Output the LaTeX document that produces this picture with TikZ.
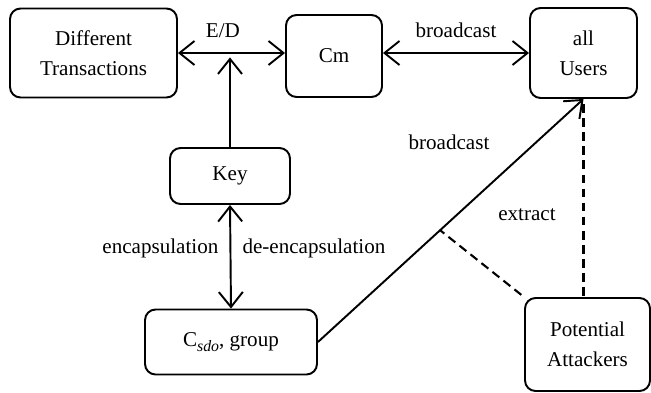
\documentclass[tikz,border=0pt]{standalone}
\usepackage{fontspec}
\setmainfont{Liberation Serif}
\usetikzlibrary{arrows.meta,positioning,calc}

\begin{document}
\begin{tikzpicture}[
  x=0.02cm,y=-0.02cm,
  font=\rmfamily\fontsize{12}{17}\selectfont,
  box/.style={draw,line width=1.1pt,rounded corners=6pt,align=center,inner sep=1pt},
  link/.style={line width=1.1pt},
  leak/.style={line width=1.2pt,dash pattern=on 5pt off 3pt},
  >={Straight Barb[length=3mm,width=4.8mm]}
]
\useasboundingbox (0,0) rectangle (651,392);
% the top row
\node[box,minimum width=3.34cm,minimum height=1.78cm] (trans) at (93.5,53) {Different\\Transactions};
\node[box,minimum width=1.92cm,minimum height=1.64cm] (cm) at (334,56) {Cm};
\node[box,minimum width=2.14cm,minimum height=1.8cm] (users) at (583.5,53) {all\\Users};
% the key and the group
\node[box,minimum width=2.4cm,minimum height=1.12cm] (key) at (230,176) {Key};
\node[box,minimum width=3.44cm,minimum height=1.3cm] (csdo) at (231,342) {C\raisebox{-2.5pt}{\small\itshape sdo}, group};
\node[box,minimum width=2.5cm,minimum height=1.86cm] (att) at (587.5,344.5) {Potential\\Attackers};
% links
\draw[link,<->] (trans.east) -- (trans.east -| cm.west) node[pos=0.42,above=5pt] (edlab) {E/D};
\draw[link,->,shorten >=2.5pt] (key.north) -- (key.north |- trans.east);
\draw[link,<->] (trans.east -| cm.east) -- (trans.east -| users.west) node[midway,above=5pt] (bclab) {broadcast};
\draw[link,<->] (key.south) -- (csdo.north)
  node[pos=0.42,left=3pt] (enclab) {encapsulation}
  node[pos=0.42,right=3pt] (declab) {de-encapsulation};
\draw[link,->] (csdo.east) -- (users.south);
\node (bc2lab) at (449,142) {broadcast};
% the attackers
\coordinate (hit) at ($(csdo.east)!0.46!(users.south)$);
\draw[leak,shorten <=3pt] (users.south) -- (users.south |- att.north);
\draw[leak,shorten <=2pt] (att.north west) -- (hit);
\node (exlab) at (527,215) {extract};
\end{tikzpicture}
\end{document}
